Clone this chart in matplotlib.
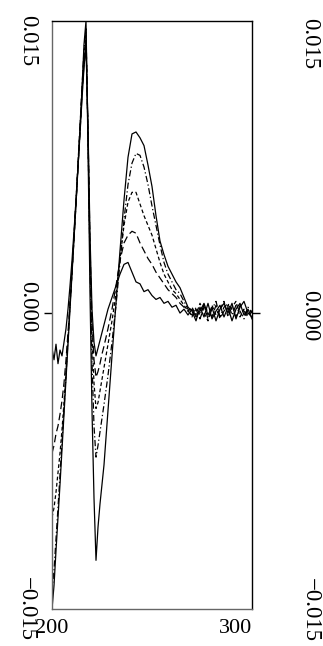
import matplotlib
matplotlib.use("Agg")
import matplotlib.pyplot as plt

# wavelength grid (nm): 1 nm steps to 226, then 2 nm steps
wavelength = list(range(200, 227)) + list(range(228, 301, 2))

curve_a = [-0.0152, -0.0140, -0.0122, -0.0105, -0.0088, -0.0070, -0.0052, -0.0034, -0.0016, 0.0002,
           0.0020, 0.0038, 0.0056, 0.0075, 0.0095, 0.0115, 0.0138, 0.0150, 0.0085, 0.0010,
           -0.0050, -0.0095, -0.0127, -0.0110, -0.0098, -0.0088, -0.0078,
           -0.0050, -0.0022, 0.0005, 0.0032, 0.0058, 0.0080, 0.0092, 0.0093, 0.0090, 0.0086,
           0.0076, 0.0065, 0.0050, 0.0037, 0.0030, 0.0024, 0.0020, 0.0016, 0.0013, 0.0008, 0.0003,
           0.0001, -0.0004, 0.0003, -0.0002, 0.0005, -0.0003, 0.0001, 0.0004,
           -0.0002, 0.0003, -0.0004, 0.0002, 0.0005, -0.0001, 0.0002, -0.0003]
curve_b = [-0.0143, -0.0132, -0.0116, -0.0100, -0.0083, -0.0066, -0.0049, -0.0032, -0.0014, 0.0004,
           0.0022, 0.0040, 0.0058, 0.0077, 0.0096, 0.0116, 0.0135, 0.0146, 0.0090, 0.0025,
           -0.0025, -0.0058, -0.0074, -0.0068, -0.0061, -0.0054, -0.0047,
           -0.0032, -0.0015, 0.0004, 0.0026, 0.0048, 0.0066, 0.0077, 0.0082, 0.0081, 0.0075,
           0.0066, 0.0055, 0.0045, 0.0035, 0.0026, 0.0020, 0.0016, 0.0012, 0.0010, 0.0006, 0.0002,
           -0.0002, 0.0003, -0.0001, 0.0004, -0.0003, 0.0002, 0.0006, -0.0002,
           0.0003, 0.0005, -0.0001, 0.0004, 0.0001, -0.0003, 0.0003, 0.0000]
curve_c = [-0.0105, -0.0100, -0.0092, -0.0082, -0.0072, -0.0060, -0.0046, -0.0030, -0.0013, 0.0004,
           0.0021, 0.0039, 0.0057, 0.0076, 0.0095, 0.0114, 0.0132, 0.0143, 0.0092, 0.0030,
           -0.0012, -0.0036, -0.0049, -0.0046, -0.0040, -0.0034, -0.0028,
           -0.0016, -0.0004, 0.0010, 0.0028, 0.0045, 0.0057, 0.0062, 0.0062, 0.0056, 0.0050,
           0.0045, 0.0040, 0.0033, 0.0026, 0.0020, 0.0016, 0.0012, 0.0010, 0.0007, 0.0004, 0.0001,
           0.0003, -0.0001, 0.0005, 0.0000, -0.0004, 0.0004, -0.0001, 0.0002,
           0.0006, -0.0002, 0.0003, 0.0006, -0.0002, 0.0002, -0.0001, 0.0002]
curve_d = [-0.0072, -0.0068, -0.0062, -0.0058, -0.0052, -0.0045, -0.0036, -0.0024, -0.0010, 0.0005,
           0.0021, 0.0038, 0.0056, 0.0075, 0.0093, 0.0112, 0.0128, 0.0140, 0.0094, 0.0035,
           -0.0005, -0.0024, -0.0033, -0.0030, -0.0026, -0.0021, -0.0017,
           -0.0008, 0.0002, 0.0014, 0.0027, 0.0036, 0.0040, 0.0042, 0.0041, 0.0036, 0.0032,
           0.0028, 0.0025, 0.0021, 0.0018, 0.0015, 0.0012, 0.0010, 0.0008, 0.0005, 0.0003, 0.0001,
           -0.0001, 0.0002, -0.0003, 0.0003, 0.0001, -0.0002, 0.0004, -0.0003,
           0.0001, 0.0004, 0.0002, -0.0002, 0.0004, 0.0001, -0.0002, 0.0001]
curve_e = [-0.0018, -0.0024, -0.0016, -0.0026, -0.0019, -0.0022, -0.0015, -0.0008, 0.0002, 0.0014,
           0.0027, 0.0042, 0.0058, 0.0075, 0.0092, 0.0110, 0.0126, 0.0137, 0.0096, 0.0040,
           0.0002, -0.0015, -0.0022, -0.0018, -0.0014, -0.0010, -0.0006,
           0.0002, 0.0008, 0.0014, 0.0020, 0.0025, 0.0026, 0.0021, 0.0016, 0.0015, 0.0011,
           0.0012, 0.0009, 0.0007, 0.0008, 0.0005, 0.0006, 0.0003, 0.0004, 0.0000, 0.0002, -0.0001,
           0.0002, -0.0002, 0.0001, 0.0005, -0.0001, 0.0003, -0.0004, 0.0002,
           0.0005, 0.0000, 0.0005, -0.0003, 0.0003, 0.0006, 0.0000, -0.0002]

xtick_values = [200, 300]
xtick_labels = ['200', '300']
ytick_labels = ['0.015', '0.000', '\u22120.015']

plt.rcParams['font.family'] = ['Liberation Serif', 'DejaVu Serif']

fig = plt.figure(figsize=(3.23, 6.46), dpi=100)
ax = fig.add_axes([52 / 323, 1 - 609 / 646, 200 / 323, 588 / 646])

styles = ['-', (0, (5, 2, 1, 2)), (0, (3, 2)), (0, (6, 3)), '-']
for ys, ls in zip([curve_a, curve_b, curve_c, curve_d, curve_e], styles):
    ax.plot(wavelength, ys, color='k', lw=0.9, ls=ls)

ax.set_xlim(200, 300)
ax.set_ylim(-0.0152, 0.0150)

for side in ['top', 'right']:
    ax.spines[side].set_color('k')
for side in ['left', 'bottom']:
    ax.spines[side].set_color('#666666')
for sp in ax.spines.values():
    sp.set_linewidth(1.0)

ax.set_xticks(xtick_values)
ax.set_xticklabels(xtick_labels, fontsize=16)
ax.tick_params(axis='x', length=0, pad=7)
ax.get_xticklabels()[0].set_ha('center')
ax.get_xticklabels()[1].set_ha('right')

ax.set_yticks([0.0])
ax.set_yticklabels([''])
ax.tick_params(axis='y', direction='out', length=6, width=1, left=True, right=True)

# rotated value labels on both sides
left_pos = [(28, 41), (28, 307), (26, 609)]
right_pos = [(310, 44), (310, 316), (310, 610)]
for lab, (x, y) in zip(ytick_labels, left_pos):
    fig.text(x / 323, 1 - y / 646, lab, rotation=-90, ha='center', va='center', fontsize=16.5)
for lab, (x, y) in zip(ytick_labels, right_pos):
    fig.text(x / 323, 1 - y / 646, lab, rotation=-90, ha='center', va='center', fontsize=16.5)

fig.savefig('out.png', dpi=100)
